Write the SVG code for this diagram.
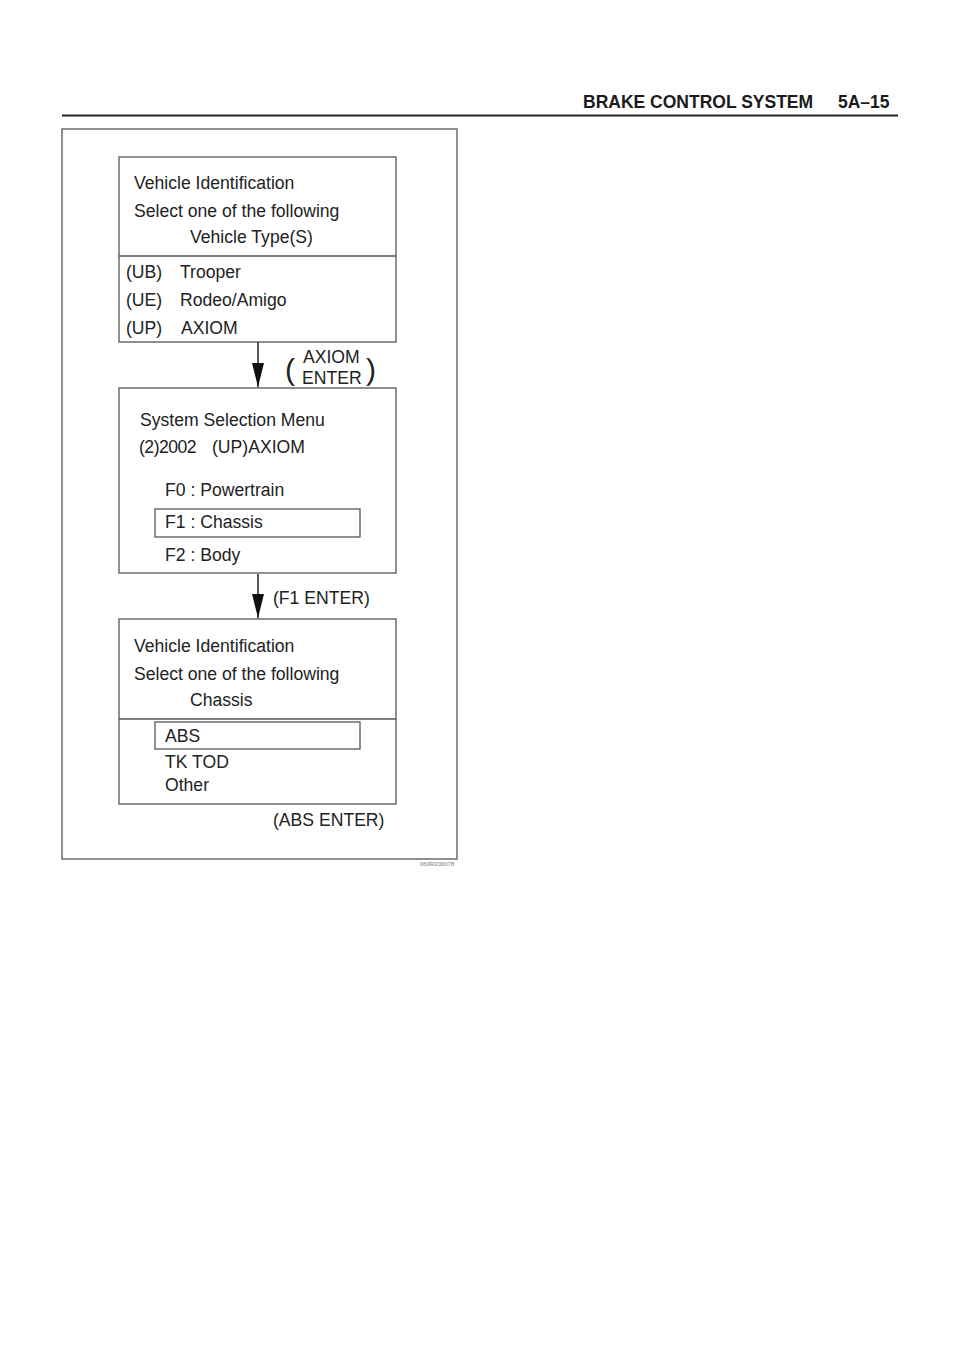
<svg xmlns="http://www.w3.org/2000/svg" width="960" height="1358" viewBox="0 0 960 1358">
<style>
text{font-family:"Liberation Sans",Arial,sans-serif;fill:#222}
.t{font-size:17.6px}
.box{fill:none;stroke:#555;stroke-width:1.3}
.hd{font-size:17.5px;font-weight:bold;fill:#1a1a1a}
.conn{stroke:#222;stroke-width:1.5;fill:none}
</style>
<defs>
<marker id="ah" viewBox="0 0 24 12" refX="24" refY="6" markerWidth="24" markerHeight="12" markerUnits="userSpaceOnUse" orient="auto">
<path d="M0,0 L24,6 L0,12 Z" fill="#111"/>
</marker>
</defs>
<rect width="960" height="1358" fill="#fff"/>
<g id="header">
<text class="hd" x="583" y="108">BRAKE CONTROL SYSTEM</text>
<text class="hd" x="838" y="108">5A–15</text>
<line x1="62" y1="115.5" x2="898" y2="115.5" stroke="#222" stroke-width="2"/>
</g>
<g id="frame">
<rect class="box" x="62" y="129" width="395" height="730" stroke-width="1.5"/>
<text x="420" y="866" style="font-size:6px;fill:#777">060R200078</text>
</g>
<g id="node1">
<rect class="box" x="119" y="157" width="277" height="185"/>
<line class="box" x1="119" y1="256" x2="396" y2="256"/>
<text class="t" x="134" y="189">Vehicle Identification</text>
<text class="t" x="134" y="217">Select one of the following</text>
<text class="t" x="190" y="243">Vehicle Type(S)</text>
<text class="t" x="126" y="278">(UB)</text><text class="t" x="180" y="278">Trooper</text>
<text class="t" x="126" y="306">(UE)</text><text class="t" x="180" y="306">Rodeo/Amigo</text>
<text class="t" x="126" y="334">(UP)</text><text class="t" x="181" y="334">AXIOM</text>
</g>
<g id="node2">
<rect class="box" x="119" y="388" width="277" height="185"/>
<text class="t" x="140" y="426">System Selection Menu</text>
<text class="t" x="139" y="453" style="letter-spacing:-0.5px">(2)2002</text>
<text class="t" x="212" y="453">(UP)AXIOM</text>
<text class="t" x="165" y="496">F0 : Powertrain</text>
<rect class="box" x="155" y="509" width="205" height="28"/>
<text class="t" x="165" y="528">F1 : Chassis</text>
<text class="t" x="165" y="561">F2 : Body</text>
</g>
<g id="node3">
<rect class="box" x="119" y="619" width="277" height="185"/>
<line class="box" x1="119" y1="719" x2="396" y2="719"/>
<text class="t" x="134" y="652">Vehicle Identification</text>
<text class="t" x="134" y="680">Select one of the following</text>
<text class="t" x="190" y="706">Chassis</text>
<rect class="box" x="155" y="722" width="205" height="27"/>
<text class="t" x="165" y="742">ABS</text>
<text class="t" x="165" y="768">TK TOD</text>
<text class="t" x="165" y="791">Other</text>
</g>
<g id="connectors">
<line class="conn" x1="258" y1="342" x2="258" y2="387" marker-end="url(#ah)"/>
<line class="conn" x1="258" y1="574" x2="258" y2="618" marker-end="url(#ah)"/>
</g>
<g id="labels">
<text x="285" y="380" style="font-size:30px">(</text>
<text class="t" x="303" y="363">AXIOM</text>
<text class="t" x="302" y="384">ENTER</text>
<text x="366" y="380" style="font-size:30px">)</text>
<text class="t" x="273" y="604">(F1 ENTER)</text>
<text class="t" x="273" y="826">(ABS ENTER)</text>
</g>
</svg>
